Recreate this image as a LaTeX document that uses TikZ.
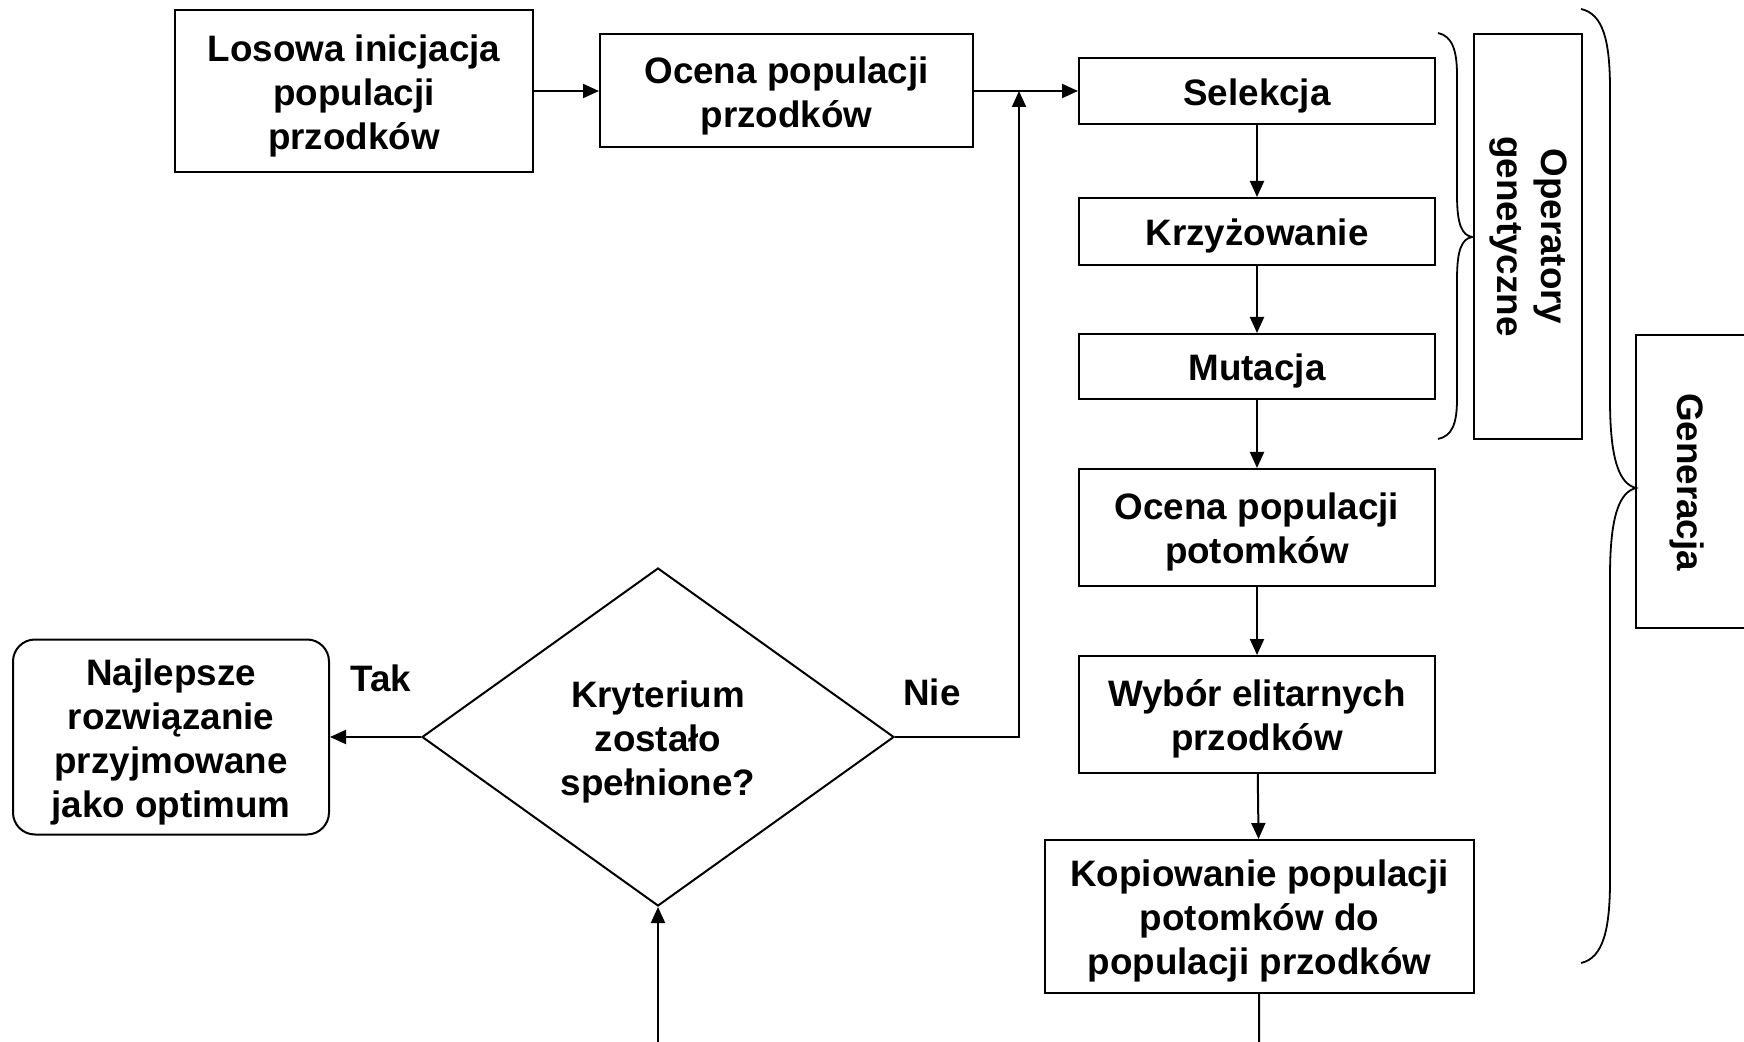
\documentclass[tikz,border=0pt]{standalone}
\usepackage{fontspec}
\setmainfont{Liberation Sans}
\usetikzlibrary{shapes.geometric,arrows.meta}
\newcommand\topstrut{\rule{0pt}{18pt}}
\begin{document}
\begin{tikzpicture}[x=0.5pt,y=-0.5pt,
  every node/.style={font=\fontsize{18.4}{22}\selectfont\bfseries, align=center, inner sep=0pt},
  box/.style={draw, line width=1pt, rectangle},
  arr/.style={line width=1pt, -{Triangle[length=8pt,width=7pt]}},
  ln/.style={line width=1pt},
  brace/.style={line width=0.9pt}]
\useasboundingbox (0,0) rectangle (1744,1042);
% top row
\node[box, minimum width=179pt, minimum height=81pt] (los) at (354,91) {\topstrut Losowa inicjacja\\populacji\\przodków};
\node[box, minimum width=186.5pt, minimum height=56.5pt] (ocp) at (786.5,91) {\topstrut Ocena populacji\\przodków};
% right column
\node[box, minimum width=178pt, minimum height=33pt] (sel) at (1257,91) {\topstrut Selekcja};
\node[box, minimum width=178pt, minimum height=33.5pt] (krz) at (1257,231.5) {\topstrut Krzyżowanie};
\node[box, minimum width=178pt, minimum height=32.5pt] (mut) at (1257,366.5) {\topstrut Mutacja};
\node[box, minimum width=178pt, minimum height=58.5pt] (opo) at (1257,527.5) {\topstrut Ocena populacji\\potomków};
\node[box, minimum width=178pt, minimum height=58.5pt] (wyb) at (1257,714.5) {\topstrut Wybór elitarnych\\przodków};
\node[box, minimum width=214.5pt, minimum height=76.5pt] (kop) at (1259.5,916.5) {\topstrut Kopiowanie populacji\\potomków do\\populacji przodków};
% side boxes
\node[box, rotate=-90, minimum width=202.5pt, minimum height=54pt] (op) at (1528,236.5) {Operatory\\genetyczne};
\node[box, minimum width=62pt, minimum height=146.5pt] (gen) at (1698,481.5) {};
\node[rotate=-90] (gent) at (1687,482) {Generacja};
% decision
\node[draw, diamond, line width=1pt, minimum width=236pt, minimum height=169pt] (dia) at (658,737) {\topstrut Kryterium\\zostało\\spełnione?};
\node[draw, line width=1pt, rounded corners=11pt, minimum width=158pt, minimum height=97.5pt] (naj) at (171,737) {\topstrut Najlepsze\\rozwiązanie\\przyjmowane\\jako optimum};
\node (tak) at (381,678) {Tak};
\node (nie) at (932,692) {Nie};
% coordinates
\coordinate (j) at (1019,91);
\coordinate (kb) at (1259,1042);
\coordinate (db) at (658,1042);
% connectors
\draw[arr] (los) -- (ocp);
\draw[arr] (ocp) -- (sel);
\draw[arr] (dia.east) -| (j);
\draw[arr] (sel) -- (krz);
\draw[arr] (krz) -- (mut);
\draw[arr] (mut) -- (opo);
\draw[arr] (opo) -- (wyb);
\draw[arr] (wyb) -- (kop);
\draw[ln] (kop) -- (kb);
\draw[arr] (db) -- (dia.south);
\draw[arr] (dia.west) -- (naj.east);
% braces
\draw[brace] (1438,33) .. controls (1452,36) and (1457,50) .. (1457,75) -- (1457,195)
  .. controls (1457,225) and (1462,235) .. (1472,237)
  .. controls (1462,239) and (1457,249) .. (1457,279) -- (1457,399)
  .. controls (1457,424) and (1452,436) .. (1438,439);
\draw[brace] (1581,9) .. controls (1603,14) and (1610,40) .. (1610,90) -- (1610,400)
  .. controls (1610,462) and (1620,484) .. (1636,488)
  .. controls (1620,492) and (1610,514) .. (1610,576) -- (1610,880)
  .. controls (1610,930) and (1603,958) .. (1581,963);
\end{tikzpicture}
\end{document}
